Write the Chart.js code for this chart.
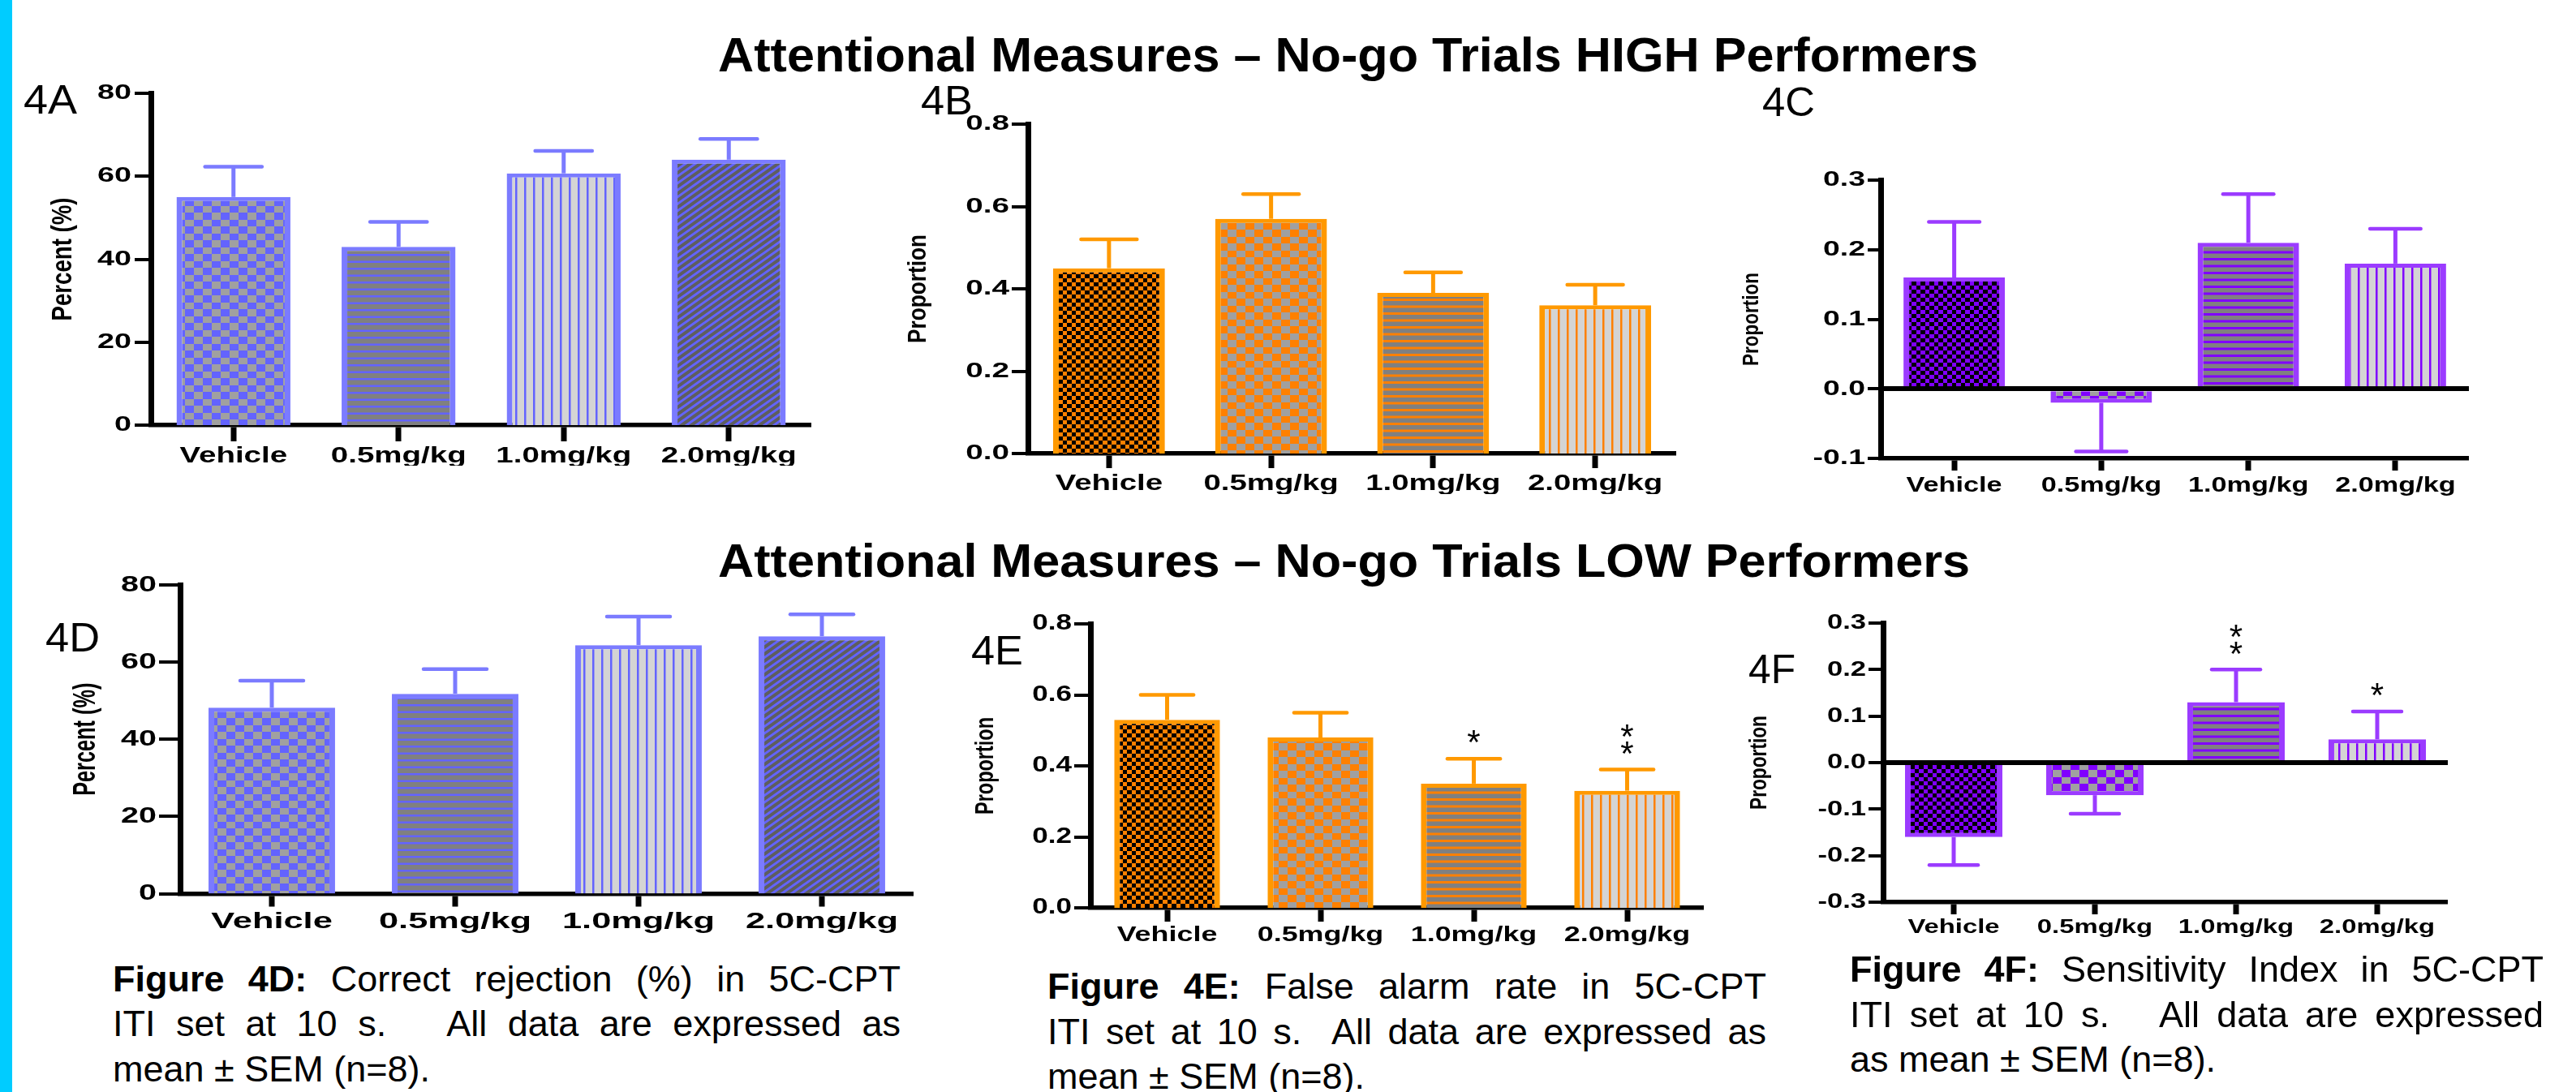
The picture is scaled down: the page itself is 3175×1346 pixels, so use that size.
<!DOCTYPE html>
<html><head><meta charset="utf-8">
<script src="https://cdn.jsdelivr.net/npm/chart.js"></script>
<style>
html,body{margin:0;padding:0;background:#fff;width:3175px;height:1346px;overflow:hidden;position:relative;font-family:"Liberation Sans",Arial,sans-serif;}
.t{position:absolute;white-space:pre;line-height:1;transform-origin:0 0;color:#000;}
canvas{position:absolute;}
#cyan{position:absolute;left:0;top:0;width:15px;height:1346px;background:#00CCFF;}
</style></head>
<body>
<div id="cyan"></div>
<script>
// ---------------- DATA ----------------
const categories = ['Vehicle', '0.5mg/kg', '1.0mg/kg', '2.0mg/kg'];
const ticksPercent = [0, 20, 40, 60, 80];
const ticksProportion = [0, 0.2, 0.4, 0.6, 0.8];
const ticksC = [-0.1, 0, 0.1, 0.2, 0.3];
const ticksF = [-0.3, -0.2, -0.1, 0, 0.1, 0.2, 0.3];

const meanA = [55, 43, 60.7, 64];
const semA  = [7.3, 6, 5.4, 5];
const meanB = [0.45, 0.57, 0.39, 0.36];
const semB  = [0.07, 0.06, 0.05, 0.05];
const meanC = [0.16, -0.02, 0.21, 0.18];
const semC  = [0.08, 0.07, 0.07, 0.05];
const meanD = [48.2, 51.8, 64.4, 66.7];
const semD  = [7, 6.4, 7.4, 5.7];
const meanE = [0.53, 0.48, 0.35, 0.33];
const semE  = [0.07, 0.07, 0.07, 0.06];
const meanF = [-0.16, -0.07, 0.13, 0.05];
const semF  = [0.06, 0.04, 0.07, 0.06];
const sigE = ['', '', '*', '**'];
const sigF = ['', '', '**', '*'];

const title1 = 'Attentional Measures \u2013 No-go Trials HIGH Performers';
const title2 = 'Attentional Measures \u2013 No-go Trials LOW Performers';
const capD = ['<b>Figure 4D:</b> Correct rejection (%) in 5C-CPT', 'ITI set at 10 s.   All data are expressed as', 'mean \u00b1 SEM (n=8).'];
const capE = ['<b>Figure 4E:</b> False alarm rate in 5C-CPT', 'ITI set at 10 s.  All data are expressed as', 'mean \u00b1 SEM (n=8).'];
const capF = ['<b>Figure 4F:</b> Sensitivity Index in 5C-CPT', 'ITI set at 10 s.   All data are expressed', 'as mean \u00b1 SEM (n=8).'];

// ---------------- PATTERNS ----------------
function tile(w, h) { const c = document.createElement('canvas'); c.width = w; c.height = h; return c; }
function checker(a, b, cw1, cw2, ch1, ch2) {
  const t = tile(cw1 + cw2, ch1 + ch2), c = t.getContext('2d');
  c.fillStyle = b; c.fillRect(0, 0, t.width, t.height);
  c.fillStyle = a; c.fillRect(0, 0, cw1, ch1); c.fillRect(cw1, ch1, cw2, ch2);
  return t;
}
function hlines(bg, fg, lw) {
  const t = tile(10, 17), c = t.getContext('2d');
  c.fillStyle = bg; c.fillRect(0, 0, 10, 17);
  c.fillStyle = fg; c.fillRect(0, 0, 10, lw); c.fillRect(0, 8.5, 10, lw);
  return t;
}
function vlines(bg, fg, lw) {
  const t = tile(11, 10), c = t.getContext('2d');
  c.fillStyle = bg; c.fillRect(0, 0, 11, 10);
  c.fillStyle = fg; c.fillRect(0, 0, lw, 10);
  return t;
}
function diag(bg, fg) {
  const t = tile(24, 17), c = t.getContext('2d');
  c.fillStyle = bg; c.fillRect(0, 0, 24, 17);
  c.strokeStyle = fg; c.lineWidth = 3;
  for (let n = -3; n <= 3; n++) {
    const cc = 17 + n * 8.5;
    c.beginPath(); c.moveTo(-2, cc + 2 * 17 / 24); c.lineTo(26, cc - 26 * 17 / 24); c.stroke();
  }
  return t;
}
const THEMES = {
  blue: { border: '#7B7BFF', tiles: () => [
    checker('#6363FF', '#A0A0A0', 11, 11, 9, 8), hlines('#808080', '#6363FF', 2.5),
    vlines('#D4D4D4', '#6363FF', 2.5), diag('#5E5E5E', '#6363FF')] },
  orange: { border: '#FF9900', tiles: () => [
    checker('#FF8000', '#000000', 6, 5, 5, 5), checker('#FF8000', '#A0A0A0', 11, 11, 9, 8),
    hlines('#808080', '#FF8000', 3), vlines('#D4D4D4', '#FF8000', 2.5)] },
  purple: { border: '#9B3BFF', tiles: () => [
    checker('#8000FF', '#000000', 6, 5, 5, 5), checker('#8000FF', '#A0A0A0', 11, 11, 9, 8),
    hlines('#808080', '#8000FF', 3), vlines('#D4D4D4', '#8000FF', 2.5)] }
};

// ---------------- LAYOUT (chart areas in page px) ----------------
const PANELS = [
  { mean: meanA, sem: semA, ticks: ticksPercent, dec: 0, theme: 'blue', yTitle: 'Percent (%)',
    L: 186, T: 115, R: 1000, B: 524, yW: 124, tFs: 27.6, st: { t: 1.28, y: 1.45, x: 1.35 },
    yFs: 26, yTl: 20, yPad: 4, xFs: 28.5, xTl: 20, xPad: 1, zero: false },
  { mean: meanB, sem: semB, ticks: ticksProportion, dec: 1, theme: 'orange', yTitle: 'Proportion',
    L: 1267, T: 153, R: 2066, B: 559, yW: 151, tFs: 26.2, st: { t: 1.23, y: 1.46, x: 1.37 },
    yFs: 26.5, yTl: 20, yPad: 3, xFs: 28, xTl: 18, xPad: 2, zero: false },
  { mean: meanC, sem: semC, ticks: ticksC, dec: 1, theme: 'purple', yTitle: 'Proportion',
    L: 2318, T: 222, R: 3043, B: 565, yW: 172, tFs: 22.5, st: { t: 1.2, y: 1.41, x: 1.37 },
    yFs: 26.5, yTl: 16, yPad: 3, xFs: 25, xTl: 15, xPad: 4, zero: true },
  { mean: meanD, sem: semD, ticks: ticksPercent, dec: 0, theme: 'blue', yTitle: 'Percent (%)',
    L: 222, T: 721, R: 1126, B: 1101.5, yW: 131, tFs: 25.3, st: { t: 1.5, y: 1.41, x: 1.55 },
    yFs: 28, yTl: 26, yPad: 3, xFs: 28, xTl: 16, xPad: 2, zero: false },
  { mean: meanE, sem: semE, ticks: ticksProportion, dec: 1, theme: 'orange', yTitle: 'Proportion', sig: sigE,
    L: 1344, T: 769, R: 2100, B: 1119, yW: 143, tFs: 23.5, st: { t: 1.37, y: 1.3, x: 1.38 },
    yFs: 27, yTl: 20, yPad: 3, xFs: 26, xTl: 17, xPad: 1, zero: false },
  { mean: meanF, sem: semF, ticks: ticksF, dec: 1, theme: 'purple', yTitle: 'Proportion', sig: sigF,
    L: 2321, T: 768, R: 3017, B: 1112, yW: 166, tFs: 22.7, st: { t: 1.28, y: 1.33, x: 1.34 },
    yFs: 26, yTl: 18, yPad: 3, xFs: 24.5, xTl: 15, xPad: 2, zero: true }
];

// horizontal (screen-space) stretch of text drawn by the library
function stretchCtx(ctx, st) {
  const orig = ctx.fillText.bind(ctx);
  ctx.fillText = function (text, x, y) {
    const f = ctx.font, m = ctx.getTransform();
    let s = 1;
    if (Math.abs(m.b) > 1e-6) s = st.t;
    else if (f.indexOf('Helvetica') >= 0) s = st.x;
    else if (f.indexOf('Arial') >= 0) s = st.y;
    if (s === 1) return orig(text, x, y);
    const p = m.transformPoint(new DOMPoint(x, y));
    ctx.setTransform(new DOMMatrix().translate(p.x, p.y).scale(s, 1).translate(-p.x, -p.y).multiply(m));
    orig(text, x, y);
    ctx.setTransform(m);
  };
}

Chart.defaults.font.family = '"Liberation Sans", Arial';
Chart.defaults.color = '#000';

PANELS.forEach((P) => {
  const xH = 50;
  const cx = Math.floor(P.L - P.yW - 10), cy = Math.floor(P.T - 40);
  const cw = Math.ceil(P.R + 40) - cx, ch = Math.ceil(P.B + xH + 20) - cy;
  const cv = document.createElement('canvas');
  cv.width = cw; cv.height = ch;
  cv.style.left = cx + 'px'; cv.style.top = cy + 'px';
  cv.style.width = cw + 'px'; cv.style.height = ch + 'px';
  document.body.appendChild(cv);
  const ctx = cv.getContext('2d');
  stretchCtx(ctx, P.st);
  const th = THEMES[P.theme];
  const fills = th.tiles().map(t => ctx.createPattern(t, 'repeat'));
  const isZero = v => Math.abs(v) < 1e-9;

  const errPlugin = {
    id: 'errbars',
    afterDatasetsDraw(chart) {
      const c = chart.ctx, xs = chart.scales.x, ys = chart.scales.y;
      const meta = chart.getDatasetMeta(0);
      P.mean.forEach((v, i) => {
        const dir = v >= 0 ? 1 : -1;
        const px = xs.getPixelForValue(i);
        const y0 = ys.getPixelForValue(v);
        const y1 = ys.getPixelForValue(v + dir * P.sem[i]);
        const capW = meta.data[i].width * 0.5;
        c.save();
        c.strokeStyle = th.border;
        c.lineWidth = 5; c.lineCap = 'butt';
        c.beginPath(); c.moveTo(px, y0); c.lineTo(px, y1); c.stroke();
        c.lineWidth = 4.5; c.lineCap = 'round';
        c.beginPath(); c.moveTo(px - capW / 2, y1); c.lineTo(px + capW / 2, y1); c.stroke();
        if (P.sig && P.sig[i]) {
          c.fillStyle = '#000';
          c.font = '42px "Liberation Sans", sans-serif';
          c.textAlign = 'center'; c.textBaseline = 'alphabetic';
          for (let k = 0; k < P.sig[i].length; k++) {
            const cyy = y1 - 31 - k * 21;
            c.fillText('*', px, cyy + 0.6 * 42);
          }
        }
        c.restore();
      });
    }
  };

  new Chart(cv, {
    type: 'bar',
    data: {
      labels: categories,
      datasets: [{
        data: P.mean,
        backgroundColor: fills,
        borderColor: th.border,
        borderWidth: { left: 7, right: 7, top: 5, bottom: 5 },
        borderSkipped: 'start',
        barPercentage: 0.69,
        categoryPercentage: 1
      }]
    },
    options: {
      responsive: false, animation: false, devicePixelRatio: 1, events: [],
      layout: { padding: { left: P.L - P.yW - cx, top: P.T - cy, right: cx + cw - P.R, bottom: cy + ch - P.B - xH } },
      plugins: { legend: { display: false }, tooltip: { enabled: false } },
      scales: {
        x: {
          z: 1,
          afterFit: s => { s.height = xH; },
          border: { display: true, color: '#000', width: 5.5 },
          grid: { display: true, drawOnChartArea: false, drawTicks: true, offset: false,
                  tickLength: P.xTl, tickWidth: 7, tickColor: '#000', lineWidth: 0 },
          ticks: { autoSkip: false, maxRotation: 0, minRotation: 0, padding: P.xPad, color: '#000',
                   font: { family: '"Liberation Sans", Helvetica', size: P.xFs, weight: 'bold' } }
        },
        y: {
          z: 1,
          min: P.ticks[0], max: P.ticks[P.ticks.length - 1],
          afterFit: s => { s.width = P.yW; },
          afterBuildTicks: s => { s.ticks = P.ticks.map(v => ({ value: v })); },
          border: { display: true, color: '#000', width: 7 },
          grid: { display: true, drawOnChartArea: P.zero, drawTicks: true,
                  tickLength: P.yTl, tickWidth: 4, tickColor: '#000',
                  color: c => (P.zero && c.tick && isZero(c.tick.value)) ? '#000' : 'rgba(0,0,0,0)',
                  lineWidth: c => (P.zero && c.tick && isZero(c.tick.value)) ? 6 : 0 },
          ticks: { padding: P.yPad, color: '#000',
                   font: { family: '"Liberation Sans", Arial', size: P.yFs, weight: 'bold' },
                   callback: v => Number(v).toFixed(P.dec) },
          title: { display: true, text: P.yTitle, color: '#000', padding: 0,
                   font: { family: '"Liberation Sans", sans-serif', size: P.tFs, weight: 'bold' } }
        }
      }
    },
    plugins: [errPlugin]
  });
});

// ---------------- HTML TEXT ----------------
const TEXTS = [
  { html: title1, x: 885, base: 89, fs: 60, bold: true, w: 1553 },
  { html: title2, x: 885, base: 711, fs: 58, bold: true, w: 1543 },
  { html: '4A', x: 29, base: 140, fs: 50, w: 66 },
  { html: '4B', x: 1135, base: 141, fs: 50, w: 64 },
  { html: '4C', x: 2172, base: 143, fs: 50, w: 65 },
  { html: '4D', x: 56, base: 803, fs: 50, w: 67 },
  { html: '4E', x: 1197, base: 819, fs: 50, w: 64 },
  { html: '4F', x: 2155, base: 842, fs: 50, w: 58 }
];
[[capD, 139, 971, [1222, 1277, 1333]], [capE, 1291, 886, [1231, 1287, 1342]], [capF, 2280, 855, [1210, 1266, 1321]]]
  .forEach(([lines, x, w, bases]) => {
    lines.forEach((l, i) => TEXTS.push({ html: l, x: x, base: bases[i], fs: 45, w: i < 2 ? w : null, justify: true }));
  });

TEXTS.forEach(T => {
  const el = document.createElement('div');
  el.className = 't';
  el.innerHTML = T.html;
  el.style.left = T.x + 'px';
  el.style.fontSize = T.fs + 'px';
  el.style.top = (T.base - 0.8466 * T.fs) + 'px';
  if (T.bold) el.style.fontWeight = 'bold';
  document.body.appendChild(el);
  if (T.w) {
    const nat = el.getBoundingClientRect().width;
    if (T.justify && nat < T.w) {
      const n = (el.textContent.match(/ /g) || []).length;
      if (n) el.style.wordSpacing = ((T.w - nat) / n) + 'px';
    } else {
      el.style.transform = 'scaleX(' + (T.w / nat) + ')';
    }
  }
});
</script>
</body></html>
